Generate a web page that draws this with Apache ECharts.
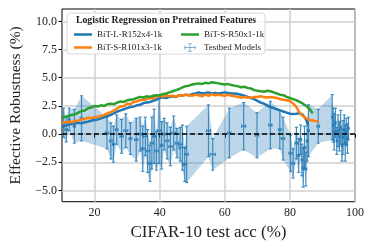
<!DOCTYPE html>
<html><head><meta charset="utf-8">
<script src="https://cdn.jsdelivr.net/npm/echarts@6/dist/echarts.min.js"></script>
<style>html,body{margin:0;padding:0;background:#fff}#c{width:374px;height:249px}</style>
</head><body><div id="c"></div>
<script>
// ---- data ----
const blueX = [10,11,12,13,14,15,16,17,18,19,20,21,22,23,24,25,26,27,28,29,30,31,32,33,34,35,36,37,38,39,40,41,42,43,44,45,46,47,48,49,50,51,52,53,54,55,56,57,58,59,60,61,62,63,64,65,66,67,68,69,70,71,72,73,74,75,76,77,78,79,80,81,82,83,84,85,85.6];
const blueY = [0.6,0.75,0.85,0.9,0.95,1.0,0.95,1.05,1.1,1.2,1.25,1.3,1.4,1.5,1.6,1.7,1.85,2.0,2.1,2.2,2.3,2.4,2.45,2.55,2.6,2.75,2.8,2.85,2.95,3.05,3.2,3.25,3.2,3.3,3.35,3.3,3.45,3.4,3.5,3.45,3.55,3.6,3.7,3.6,3.65,3.7,3.6,3.65,3.6,3.65,3.7,3.65,3.6,3.6,3.55,3.5,3.4,3.3,3.2,3.1,2.95,2.8,2.7,2.55,2.4,2.3,2.2,2.1,2.0,1.9,1.8,1.78,1.8,1.85,1.7,1.3,0.75];
const orangeX = [10,11,12,13,14,15,16,17,18,19,20,21,22,23,24,25,26,27,28,29,30,31,32,33,34,35,36,37,38,39,40,41,42,43,44,45,46,47,48,49,50,51,52,53,54,55,56,57,58,59,60,61,62,63,64,65,66,67,68,69,70,71,72,73,74,75,76,77,78,79,80,81,82,83,84,85,86,87,88,88.8];
const orangeY = [1.0,1.05,1.1,1.05,1.15,1.2,1.3,1.35,1.45,1.4,1.5,1.55,1.6,1.7,1.85,1.95,2.1,2.3,2.45,2.5,2.7,2.65,2.85,2.9,3.0,3.05,3.1,3.2,3.15,3.35,3.4,3.3,3.45,3.35,3.4,3.3,3.45,3.4,3.5,3.45,3.4,3.5,3.45,3.35,3.5,3.4,3.55,3.45,3.5,3.45,3.4,3.5,3.4,3.35,3.3,3.25,3.3,3.25,3.2,3.3,3.3,3.35,3.3,3.25,3.3,3.25,3.2,3.1,3.05,3.0,2.95,2.7,2.4,1.9,1.6,1.4,1.25,1.2,1.15,1.1];
const greenX = [10,11,12,13,14,15,16,17,18,19,20,21,22,23,24,25,26,27,28,29,30,31,32,33,34,35,36,37,38,39,40,41,42,43,44,45,46,47,48,49,50,51,52,53,54,55,56,57,58,59,60,61,62,63,64,65,66,67,68,69,70,71,72,73,74,75,76,77,78,79,80,81,82,83,84,85,86,87];
const greenY = [1.45,1.55,1.6,1.7,1.75,1.9,2.05,2.1,2.3,2.35,2.5,2.45,2.55,2.5,2.65,2.7,2.65,2.8,2.9,2.85,3.0,3.05,3.1,3.2,3.3,3.25,3.35,3.3,3.4,3.45,3.45,3.55,3.6,3.7,3.8,3.9,4.0,4.15,4.25,4.3,4.4,4.45,4.5,4.45,4.55,4.5,4.6,4.55,4.5,4.45,4.4,4.45,4.35,4.3,4.25,4.15,4.2,4.1,4.05,3.9,3.85,3.8,3.75,3.85,3.8,3.7,3.6,3.5,3.45,3.3,3.2,3.1,3.0,2.85,2.7,2.5,2.25,1.85];

const tbX    = [10.5,11.3,12.2,13.8,16.0,23.8,25.0,25.8,26.8,28.3,29.6,31.0,32.8,34.0,34.8,35.6,36.3,37.0,37.6,38.3,39.0,39.8,40.6,41.4,42.3,43.3,44.3,45.3,46.3,47.0,47.7,48.3,55.0,56.3,61.4,65.8,69.9,74.0,76.9,77.9,80.2,81.0,82.0,82.7,83.3,83.7,84.1,84.5,84.9,85.3,85.7,88.7,93.0,93.3,93.6,94.0,94.4,94.8,95.2,95.6,96.0,96.3,96.7,97.0,97.3,97.7,98.0];
const tbY    = [1.0,0.4,1.3,0.7,1.4,0.1,-0.6,-0.9,0.4,-0.2,0.3,-0.4,-0.5,0.0,-1.3,-0.2,-1.5,-2.6,-0.8,-0.2,-1.5,0.3,-1.0,0.0,-0.6,-1.1,0.1,-0.8,-0.9,-1.2,-2.7,-1.8,0.3,-1.8,0.1,0.7,-0.1,0.8,0.4,-0.4,-1.7,-2.6,-0.8,-1.9,-0.5,-2.3,-3.0,-1.2,-3.1,-0.6,0.3,0.7,1.5,0.8,0.2,1.0,-0.6,0.3,-0.2,0.6,-1.0,-0.3,0.4,-0.8,0.2,-0.4,0.5];
const tbXerr = [0.3,0.4,0.3,0.3,0.4,0.5,0.4,0.3,0.4,0.5,0.6,0.4,0.5,0.5,0.4,0.6,0.5,0.4,0.5,0.4,0.5,0.6,0.4,0.5,0.5,0.5,0.6,0.5,0.6,1.0,0.4,0.5,0.6,0.8,0.5,0.6,0.5,0.5,0.4,0.5,0.5,0.4,0.4,0.3,0.3,0.3,0.3,0.3,0.3,0.3,0.3,0.4,0.2,0.2,0.2,0.2,0.2,0.2,0.2,0.2,0.2,0.2,0.2,0.2,0.2,0.2,0.2];
const tbYerr = [1.3,1.1,1.0,1.5,2.0,1.4,1.6,1.6,1.3,1.5,1.5,1.4,1.9,1.5,2.0,1.7,1.9,1.6,2.3,2.4,1.7,2.9,2.1,1.4,1.6,1.7,1.5,1.3,1.5,2.0,1.5,2.5,2.3,1.4,2.2,2.1,2.0,2.1,1.7,1.9,1.6,1.3,1.4,1.5,1.3,1.4,1.7,1.9,1.5,1.8,2.3,1.5,2.0,1.5,1.6,1.3,1.2,1.4,1.3,1.5,1.4,1.5,1.3,1.6,1.2,1.3,1.0];

const xTicks = [20,40,60,80,100];
const yTicks = [-5,-2.5,0,2.5,5,7.5,10];
const names = ['BiT-L-R152x4-1k','BiT-S-R101x3-1k','BiT-S-R50x1-1k','Testbed Models'];
const legendTitle = 'Logistic Regression on Pretrained Features';

// ---- chart ----
const FONT = '"Liberation Serif", "DejaVu Serif", serif';
const zip = (xs, ys) => xs.map((x, i) => [x, ys[i]]);
const tbData = tbX.map((x, i) => [x, tbY[i], tbXerr[i], tbYerr[i]]);
const ERR = 'rgba(31,119,180,0.8)';

const chart = echarts.init(document.getElementById('c'), null, {renderer: 'canvas'});
chart.setOption({
  animation: false,
  backgroundColor: '#fff',
  grid: {left: 62, right: 19, top: 9, bottom: 47.3, outerBoundsMode: 'none', containLabel: false,
    show: true, borderColor: '#000', borderWidth: 1, backgroundColor: 'transparent'},
  xAxis: {
    type: 'value', min: 10, max: 100,
    name: 'CIFAR-10 test acc (%)', nameLocation: 'middle', nameGap: 20,
    nameTextStyle: {fontFamily: FONT, fontSize: 17, color: '#222'},
    axisLine: {show: false},
    axisTick: {show: true, customValues: xTicks, length: 3.5, lineStyle: {color: '#000'}},
    axisLabel: {customValues: xTicks, fontFamily: FONT, fontSize: 12, color: '#222', margin: 5},
    splitLine: {show: true, lineStyle: {color: '#d0d0d0', width: 1.5}}
  },
  yAxis: {
    type: 'value', min: -6, max: 11.1,
    name: 'Effective Robustness (%)', nameLocation: 'middle', nameGap: 38,
    nameTextStyle: {fontFamily: FONT, fontSize: 15.5, color: '#222'},
    axisLine: {show: false},
    axisTick: {show: true, customValues: yTicks, length: 3.5, lineStyle: {color: '#000'}},
    axisLabel: {customValues: yTicks, fontFamily: FONT, fontSize: 12, color: '#222', margin: 5,
      formatter: v => (v < 0 ? '\u2212' : '') + Math.abs(v).toFixed(1)},
    splitLine: {show: true, lineStyle: {color: '#d0d0d0', width: 1.5}}
  },
  graphic: [
    {type: 'rect', z: 50, shape: {x: 67, y: 13, width: 198, height: 41, r: 3},
      style: {fill: 'rgba(255,255,255,0.85)', stroke: '#d8d8d8', lineWidth: 1}},
    {type: 'text', z: 51, style: {x: 166, y: 20.5, text: legendTitle, align: 'center', verticalAlign: 'middle',
      font: 'bold 9.8px ' + FONT, fill: '#222'}}
  ],
  legend: [
    {z: 60, left: 69, top: 25, orient: 'vertical', itemGap: 4, itemWidth: 18, itemHeight: 9,
      textStyle: {fontFamily: FONT, fontSize: 9, color: '#222'},
      data: [{name: names[0], icon: 'path://M0,3.5h18v2.5h-18z'}, {name: names[1], icon: 'path://M0,3.5h18v2.5h-18z'}]},
    {z: 60, left: 176, top: 25, orient: 'vertical', itemGap: 4, itemWidth: 18, itemHeight: 9,
      textStyle: {fontFamily: FONT, fontSize: 9, color: '#222'},
      data: [{name: names[2], icon: 'path://M0,3.5h18v2.5h-18z'},
             {name: names[3], icon: 'path://M3,4.2h12v1h-12z M8.5,0h1v9.4h-1z M3,3h1v3.4h-1z M14,3h1v3.4h-1z M7,0h4v0.8h-4z M7,8.6h4v0.8h-4z',
              itemStyle: {color: 'rgba(31,119,180,0.6)'}}]}
  ],
  series: [
    {
      type: 'custom', name: 'band', silent: true, z: 1, data: [[tbX[0], tbY[0]]],
      encode: {x: 0, y: 1},
      renderItem: (params, api) => {
        const up = tbX.map((x, i) => api.coord([x, tbY[i] + tbYerr[i]]));
        const lo = tbX.map((x, i) => api.coord([x, tbY[i] - tbYerr[i]])).reverse();
        return {type: 'polygon', shape: {points: up.concat(lo)}, style: {fill: 'rgba(31,119,180,0.3)', stroke: 'none'}};
      }
    },
    {
      type: 'custom', name: names[3], z: 2, data: tbData, encode: {x: 0, y: 1},
      itemStyle: {color: 'rgba(31,119,180,0.6)'},
      renderItem: (params, api) => {
        const x = api.value(0), y = api.value(1), xe = api.value(2), ye = api.value(3);
        const t = api.coord([x, y + ye]), b = api.coord([x, y - ye]);
        const l = api.coord([x - xe, y]), r = api.coord([x + xe, y]);
        const cap = 1.6;
        const st = {stroke: ERR, lineWidth: 1.2};
        const ln = (x1, y1, x2, y2) => ({type: 'line', shape: {x1, y1, x2, y2}, style: st});
        return {type: 'group', children: [
          ln(t[0], t[1], b[0], b[1]),
          ln(t[0] - cap, t[1], t[0] + cap, t[1]),
          ln(b[0] - cap, b[1], b[0] + cap, b[1]),
          ln(l[0], l[1], r[0], r[1]),
          ln(l[0], l[1] - cap, l[0], l[1] + cap),
          ln(r[0], r[1] - cap, r[0], r[1] + cap)
        ]};
      }
    },
    {type: 'line', name: names[0], data: zip(blueX, blueY), showSymbol: false, z: 5,
      color: '#1f77b4', lineStyle: {width: 2.5, color: '#1f77b4'},
      markLine: {silent: true, symbol: 'none', label: {show: false}, lineStyle: {color: '#000', type: [5, 3], width: 1.5}, data: [{yAxis: 0}]}},
    {type: 'line', name: names[1], data: zip(orangeX, orangeY), showSymbol: false, z: 5,
      color: '#ff7f0e', lineStyle: {width: 2.5, color: '#ff7f0e'}},
    {type: 'line', name: names[2], data: zip(greenX, greenY), showSymbol: false, z: 5,
      color: '#2ca02c', lineStyle: {width: 2.5, color: '#2ca02c'}}
  ]
});
</script></body></html>
